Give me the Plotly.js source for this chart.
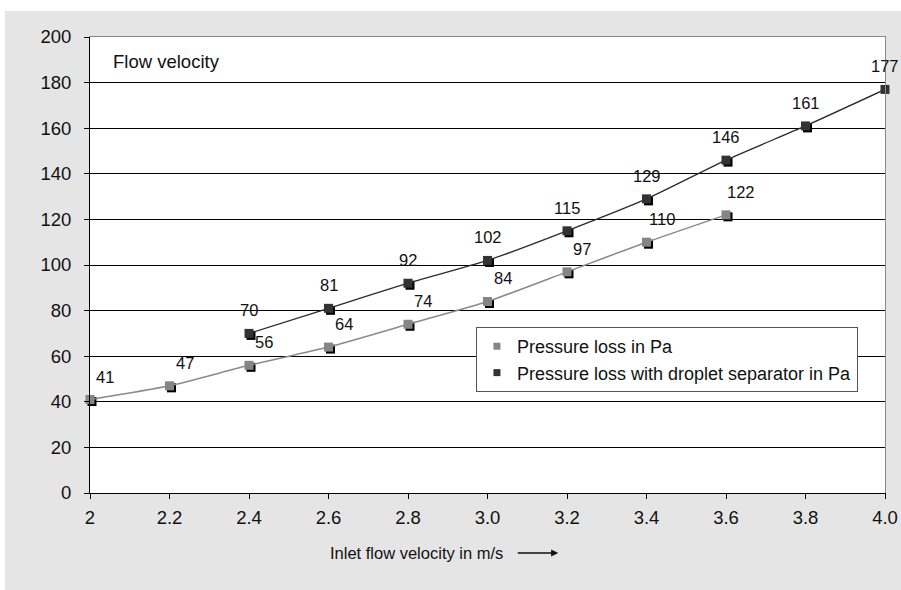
<!DOCTYPE html>
<html>
<head>
<meta charset="utf-8">
<script src="https://cdn.plot.ly/plotly-3.0.1.min.js"></script>
<style>
  html, body { margin: 0; padding: 0; background: #ffffff; }
  #chart { position: absolute; left: 5px; top: 11px; width: 896px; height: 579px; }
</style>
</head>
<body>
<div id="chart"></div>
<script>
// ---- data ----
const velocity = [2.0, 2.2, 2.4, 2.6, 2.8, 3.0, 3.2, 3.4, 3.6];
const pressureLoss = [41, 47, 56, 64, 74, 84, 97, 110, 122];
const velocitySep = [2.4, 2.6, 2.8, 3.0, 3.2, 3.4, 3.6, 3.8, 4.0];
const pressureLossSep = [70, 81, 92, 102, 115, 129, 146, 161, 177];
const seriesNames = ["Pressure loss in Pa", "Pressure loss with droplet separator in Pa"];
const xTickVals = [2.0, 2.2, 2.4, 2.6, 2.8, 3.0, 3.2, 3.4, 3.6, 3.8, 4.0];
const xTickLabels = ["2", "2.2", "2.4", "2.6", "2.8", "3.0", "3.2", "3.4", "3.6", "3.8", "4.0"];
const yTickVals = [0, 20, 40, 60, 80, 100, 120, 140, 160, 180, 200];
const chartLabel = "Flow velocity";
const xTitle = "Inlet flow velocity in m/s";

// ---- style ----
const FONT = "Liberation Sans, Arial, Helvetica, sans-serif";
const W = 896, H = 579;
const M = {l: 85, r: 16, t: 26, b: 97};
const plotW = W - M.l - M.r, plotH = H - M.t - M.b;
const xRange = [2, 4], yRange = [0, 200];
const SH = 2; // shadow offset in px
const dx = SH * (xRange[1] - xRange[0]) / plotW;
const dy = SH * (yRange[1] - yRange[0]) / plotH;
const c1 = "#858585", c2 = "#333333";
const mSize = 9;
const TXT = "#111111";

const traces = [
  // shadows
  {x: velocity, y: pressureLoss, xaxis: "x2", yaxis: "y2", mode: "markers", cliponaxis: false,
   marker: {symbol: "square", size: mSize, color: "#000"}, showlegend: false, hoverinfo: "skip"},
  {x: velocitySep, y: pressureLossSep, xaxis: "x2", yaxis: "y2", mode: "markers", cliponaxis: false,
   marker: {symbol: "square", size: mSize, color: "#000"}, showlegend: false, hoverinfo: "skip"},
  // main series
  {x: velocity, y: pressureLoss, xaxis: "x3", yaxis: "y3", mode: "lines+markers", cliponaxis: false,
   name: seriesNames[0], showlegend: false,
   line: {color: "#8a8a8a", width: 1.5, shape: "spline", smoothing: 0.6},
   marker: {symbol: "square", size: mSize, color: c1}},
  {x: velocitySep, y: pressureLossSep, xaxis: "x3", yaxis: "y3", mode: "lines+markers", cliponaxis: false,
   name: seriesNames[1], showlegend: false,
   line: {color: "#2a2a2a", width: 1.3, shape: "spline", smoothing: 0.6},
   marker: {symbol: "square", size: mSize, color: c2}},
  // legend entries
  {x: [null], y: [null], xaxis: "x3", yaxis: "y3", mode: "markers", name: seriesNames[0],
   marker: {symbol: "square", size: 7, color: c1}},
  {x: [null], y: [null], xaxis: "x3", yaxis: "y3", mode: "markers", name: seriesNames[1],
   marker: {symbol: "square", size: 7, color: c2}}
];

const labelFont = {family: FONT, size: 16.5, color: TXT};
const annotations = [];
velocity.forEach((v, i) => annotations.push({
  x: v, y: pressureLoss[i], xref: "x", yref: "y", text: String(pressureLoss[i]),
  showarrow: false, xshift: 15, yshift: 23, font: labelFont
}));
velocitySep.forEach((v, i) => annotations.push({
  x: v, y: pressureLossSep[i], xref: "x", yref: "y", text: String(pressureLossSep[i]),
  showarrow: false, xshift: 0, yshift: 23, font: labelFont
}));
annotations.push({
  x: 0.026, y: 0.947, xref: "paper", yref: "paper", xanchor: "left", yanchor: "middle",
  text: chartLabel, showarrow: false, font: {family: FONT, size: 18.5, color: TXT}
});
annotations.push({
  x: 0.2994, y: -0.1316, xref: "paper", yref: "paper", xanchor: "left", yanchor: "middle",
  text: xTitle, showarrow: false, font: {family: FONT, size: 16.5, color: TXT}
});
annotations.push({
  x: 0.589, y: -0.1316, xref: "paper", yref: "paper", text: "", showarrow: true,
  ax: -42, ay: 0, arrowhead: 2, arrowsize: 1.1, arrowwidth: 1.3, arrowcolor: TXT
});

const tickFont = {family: FONT, size: 18.5, color: TXT};
const layout = {
  width: W, height: H,
  margin: M,
  paper_bgcolor: "#e5e5e5",
  plot_bgcolor: "#ffffff",
  font: {family: FONT, size: 16, color: TXT},
  showlegend: true,
  legend: {
    x: 0.4855, y: 0.364, xanchor: "left", yanchor: "top",
    bgcolor: "#ffffff", bordercolor: "#555", borderwidth: 1,
    font: {family: FONT, size: 18, color: TXT},
    itemwidth: 30, tracegroupgap: 0
  },
  xaxis: {
    range: xRange, tickvals: xTickVals, ticktext: xTickLabels,
    ticks: "outside", ticklen: 5, tickcolor: "#000", tickwidth: 1,
    ticklabelstandoff: 3,
    showline: true, linecolor: "#000", linewidth: 1,
    showgrid: false, zeroline: false, tickfont: tickFont, fixedrange: true
  },
  yaxis: {
    range: yRange, tickvals: yTickVals,
    ticks: "outside", ticklen: 5, tickcolor: "#000", tickwidth: 1,
    ticklabelstandoff: 9,
    showline: true, linecolor: "#000", linewidth: 1,
    showgrid: true, gridcolor: "#000", gridwidth: 1,
    zeroline: false, tickfont: tickFont, fixedrange: true
  },
  xaxis2: {overlaying: "x", range: [xRange[0] - dx, xRange[1] - dx], visible: false},
  yaxis2: {overlaying: "y", range: [yRange[0] + dy, yRange[1] + dy], visible: false},
  xaxis3: {overlaying: "x", side: "top", range: xRange, showline: true, linecolor: "#8a8a8a",
           showgrid: false, zeroline: false, showticklabels: false, ticks: ""},
  yaxis3: {overlaying: "y", side: "right", range: yRange, showline: true, linecolor: "#8a8a8a",
           showgrid: false, zeroline: false, showticklabels: false, ticks: ""},
  annotations: annotations
};

Plotly.newPlot("chart", traces, layout, {displayModeBar: false, staticPlot: true});
</script>
</body>
</html>
